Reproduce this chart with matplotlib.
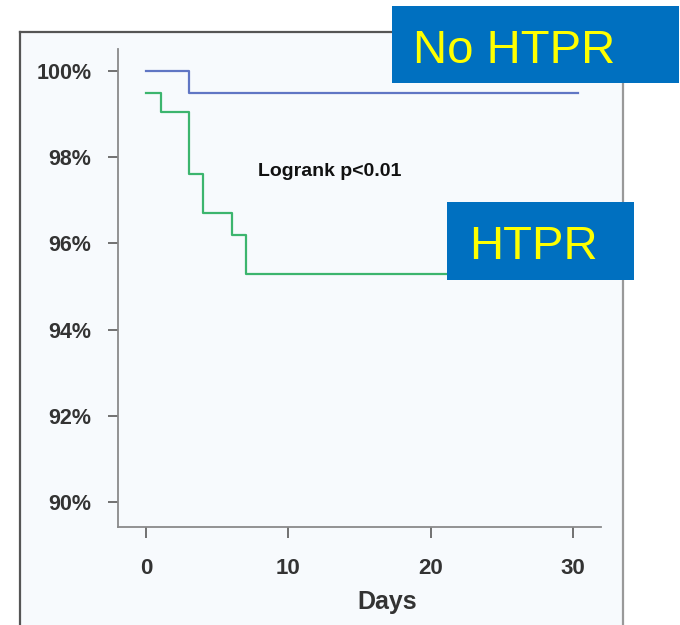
import numpy as np
import matplotlib
matplotlib.use("Agg")
import matplotlib.pyplot as plt
from matplotlib.patches import Rectangle
from matplotlib.lines import Line2D

plt.rcParams['font.family'] = ['Liberation Sans', 'DejaVu Sans']

# Kaplan-Meier steps (event-free survival, %)
no_htpr_days = [0, 3, 30.4]
no_htpr_surv = [100.0, 99.5, 99.5]

htpr_days = [0, 1, 3, 4, 6, 7, 30.4]
htpr_surv = [99.5, 99.05, 97.6, 96.7, 96.2, 95.3, 95.3]

y_ticks = [90, 92, 94, 96, 98, 100]
y_labels = ["90%", "92%", "94%", "96%", "98%", "100%"]
x_ticks = [0, 10, 20, 30]

W, H = 680, 625
fig = plt.figure(figsize=(W / 100, H / 100), dpi=100)
fig.patch.set_facecolor('white')


def fx(px):
    return px / W


def fy(py):
    return 1 - py / H


# light panel behind the plot
fig.add_artist(Rectangle((fx(20), fy(630)), fx(603), (630 - 32) / H,
                         transform=fig.transFigure, facecolor='#f7fafd',
                         edgecolor='none', zorder=0))
fig.add_artist(Line2D([fx(20), fx(20)], [fy(32), fy(630)], color='#555555',
                      lw=1.6, transform=fig.transFigure))
fig.add_artist(Line2D([fx(20), fx(623)], [fy(32), fy(32)], color='#555555',
                      lw=1.6, transform=fig.transFigure))
fig.add_artist(Line2D([fx(623), fx(623)], [fy(32), fy(630)], color='#999999',
                      lw=1.6, transform=fig.transFigure))

ax = fig.add_axes([fx(118), fy(527), fx(601 - 118), (527 - 49) / H])
ax.set_facecolor('none')
ax.set_xlim(-2, 32)
ax.set_ylim(89.42, 100.51)

ax.plot(no_htpr_days, no_htpr_surv, drawstyle='steps-post', color='#6076c4', lw=1.6)
ax.plot(htpr_days, htpr_surv, drawstyle='steps-post', color='#3cb56e', lw=1.6)

for side in ['top', 'right']:
    ax.spines[side].set_visible(False)
for side in ['left', 'bottom']:
    ax.spines[side].set_color('#8a8a8a')
    ax.spines[side].set_linewidth(1.3)

ax.set_yticks(y_ticks)
ax.set_yticklabels(y_labels, fontsize=15.5, fontweight='bold', color='#333333')
ax.set_xticks(x_ticks)
ax.set_xticklabels([str(t) for t in x_ticks], fontsize=16, fontweight='bold', color='#333333')
ax.tick_params(axis='y', length=7, width=1.3, color='#666666', pad=12)
ax.tick_params(axis='x', length=8, width=1.3, color='#666666', pad=14)
ax.set_xlabel("Days", fontsize=18, fontweight='bold', color='#333333')
ax.xaxis.set_label_coords((387 - 118) / 483, -(590 - 527) / 478)

ax.text(12.9, 97.66, "Logrank p<0.01", fontsize=14, fontweight='bold',
        color='#111111', ha='center', va='center')

# group label boxes
blue_box = '#0070c0'
fig.add_artist(Rectangle((fx(392), fy(83)), fx(679 - 392), (83 - 6) / H,
                         transform=fig.transFigure, facecolor=blue_box,
                         edgecolor='none', zorder=5))
fig.text(fx(413), fy(63), "No HTPR", fontsize=34, color='#ffff00',
         ha='left', va='baseline', zorder=6)

fig.add_artist(Rectangle((fx(447), fy(280)), fx(634 - 447), (280 - 202) / H,
                         transform=fig.transFigure, facecolor=blue_box,
                         edgecolor='none', zorder=5))
fig.text(fx(469), fy(259), "HTPR", fontsize=34, color='#ffff00',
         ha='left', va='baseline', zorder=6)

fig.savefig("out.png", dpi=100)
